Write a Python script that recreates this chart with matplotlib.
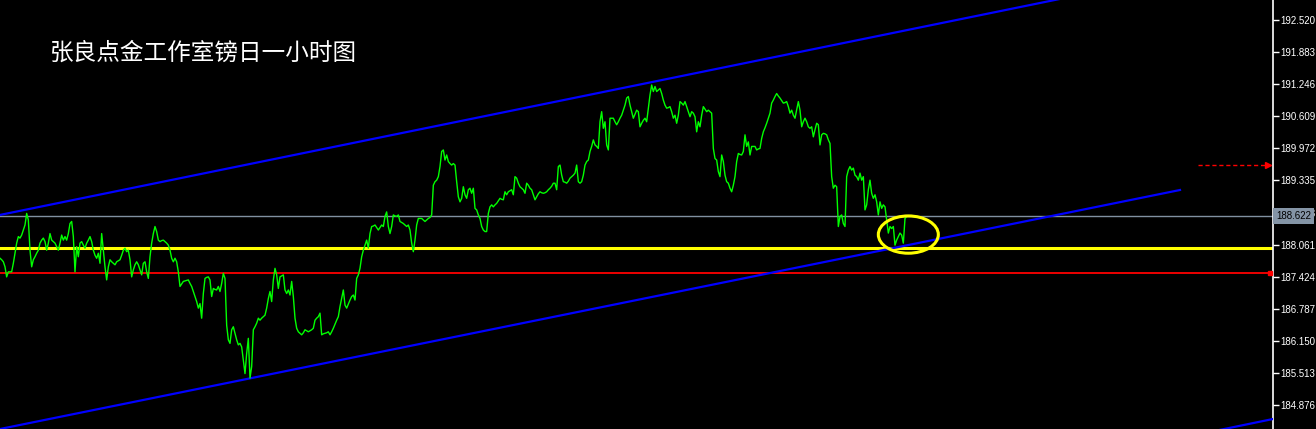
import matplotlib
matplotlib.use("Agg")
import matplotlib.pyplot as plt
from matplotlib.patches import Ellipse

plt.rcParams['font.family'] = ['Noto Sans CJK SC', 'DejaVu Sans']

titulo = "张良点金工作室镑日一小时图"

# fechamentos por barra (1h)
precos = [
    187.79, 187.76, 187.72, 187.62, 187.42, 187.52, 187.52, 187.52, 187.69, 187.89,
    188.09, 188.22, 188.19, 188.25, 188.35, 188.45, 188.68, 188.55, 187.95, 187.62,
    187.76, 187.82, 187.89, 187.95, 188.09, 188.15, 188.19, 188.12, 187.95, 188.09,
    188.28, 188.15, 188.12, 188.09, 188.02, 187.95, 188.09, 188.25, 188.15, 188.22,
    188.15, 188.28, 188.48, 188.52, 188.22, 187.52, 188.02, 187.82, 188.09, 188.12,
    188.05, 187.99, 188.09, 188.15, 188.22, 188.12, 187.95, 187.85, 187.79, 187.89,
    187.69, 188.28, 187.95, 187.62, 187.36, 187.62, 187.76, 187.72, 187.69, 187.66,
    187.72, 187.74, 187.76, 187.85, 187.95, 187.99, 187.92, 187.95, 187.76, 187.42,
    187.56, 187.66, 187.72, 187.66, 187.56, 187.46, 187.69, 187.72, 187.52, 187.39,
    187.82, 188.09, 188.28, 188.42, 188.32, 188.15, 188.12, 188.14, 188.15, 188.12,
    188.09, 188.05, 187.95, 187.79, 187.72, 187.79, 187.72, 187.52, 187.23, 187.28,
    187.33, 187.34, 187.35, 187.36, 187.29, 187.23, 187.13, 187.03, 186.93, 186.80,
    186.89, 186.60, 187.09, 187.39, 187.41, 187.42, 187.36, 187.03, 187.19, 187.17,
    187.16, 187.23, 187.13, 187.29, 187.49, 187.39, 186.46, 186.17, 186.10, 186.37,
    186.43, 186.30, 186.17, 186.07, 186.10, 186.03, 185.77, 185.50, 185.90, 186.20,
    185.41, 185.64, 186.37, 186.43, 186.50, 186.60, 186.56, 186.60, 186.63, 186.66,
    186.80, 186.99, 187.13, 186.93, 187.36, 187.59, 187.46, 187.19, 187.42, 187.44,
    187.46, 187.16, 187.09, 187.16, 187.06, 187.33, 187.03, 186.60, 186.40, 186.33,
    186.30, 186.27, 186.31, 186.37, 186.35, 186.33, 186.35, 186.37, 186.40, 186.56,
    186.60, 186.63, 186.70, 186.27, 186.29, 186.30, 186.31, 186.33, 186.27, 186.33,
    186.40, 186.48, 186.56, 186.63, 186.83, 186.99, 187.16, 186.86, 186.80, 186.88,
    186.96, 187.03, 187.06, 186.96, 187.39, 187.46, 187.59, 187.82, 187.95, 188.05,
    188.15, 187.99, 188.28, 188.42, 188.43, 188.45, 188.40, 188.35, 188.40, 188.45,
    188.42, 188.62, 188.71, 188.42, 188.28, 188.42, 188.65, 188.63, 188.62, 188.65,
    188.52, 188.50, 188.48, 188.45, 188.42, 188.45, 188.35, 188.09, 187.92, 188.15,
    188.45, 188.58, 188.58, 188.58, 188.55, 188.52, 188.55, 188.58, 188.60, 188.65,
    189.24, 189.31, 189.34, 189.41, 189.61, 189.91, 189.94, 189.74, 189.84, 189.71,
    189.67, 189.64, 189.67, 189.64, 189.31, 189.01, 188.91, 188.98, 189.21, 189.05,
    188.98, 189.15, 189.18, 189.08, 189.18, 188.78, 188.75, 188.65, 188.58, 188.42,
    188.35, 188.32, 188.32, 188.68, 188.81, 188.85, 188.81, 188.85, 188.88, 188.93,
    188.98, 188.96, 188.95, 189.11, 189.05, 189.11, 189.13, 189.15, 189.05, 189.41,
    189.38, 189.28, 189.21, 189.18, 189.15, 189.08, 189.28, 189.24, 189.18, 189.15,
    189.05, 188.95, 189.01, 189.07, 189.11, 189.09, 189.08, 189.09, 189.11, 189.15,
    189.18, 189.22, 189.28, 189.28, 189.15, 189.61, 189.64, 189.44, 189.31, 189.30,
    189.28, 189.32, 189.38, 189.41, 189.44, 189.48, 189.64, 189.31, 189.28, 189.31,
    189.44, 189.64, 189.71, 189.74, 189.91, 190.01, 190.14, 190.04, 190.01, 189.97,
    190.50, 190.70, 190.37, 190.50, 190.04, 189.94, 190.57, 190.57, 190.57, 190.50,
    190.44, 190.50, 190.57, 190.63, 190.73, 190.83, 190.97, 191.00, 190.83, 190.70,
    190.57, 190.65, 190.73, 190.70, 190.40, 190.47, 190.53, 190.57, 190.50, 190.77,
    191.03, 191.23, 191.10, 191.20, 191.10, 191.13, 191.16, 191.06, 190.93, 190.83,
    190.77, 190.78, 190.80, 190.70, 190.57, 190.63, 190.47, 190.63, 190.90, 190.87,
    190.83, 190.90, 190.80, 190.70, 190.60, 190.70, 190.67, 190.60, 190.30, 190.50,
    190.40, 190.63, 190.80, 190.75, 190.70, 190.73, 190.70, 190.67, 189.97, 189.77,
    189.74, 189.51, 189.41, 189.84, 189.71, 189.44, 189.31, 189.28, 189.18, 189.11,
    189.24, 189.41, 189.71, 189.87, 189.85, 189.84, 189.91, 190.24, 190.01, 190.10,
    189.84, 190.01, 190.01, 190.01, 189.94, 189.96, 189.97, 190.17, 190.30, 190.38,
    190.47, 190.57, 190.67, 190.87, 190.93, 191.00, 191.06, 191.01, 190.97, 190.92,
    190.87, 190.88, 190.90, 190.80, 190.67, 190.73, 190.63, 190.57, 190.73, 190.90,
    190.73, 190.40, 190.50, 190.57, 190.50, 190.40, 190.37, 190.40, 190.20, 190.34,
    190.47, 190.44, 190.04, 190.24, 190.27, 190.26, 190.24, 190.14, 190.07, 189.41,
    189.18, 189.24, 189.21, 188.42, 188.62, 188.65, 188.48, 188.42, 189.41, 189.54,
    189.61, 189.54, 189.58, 189.44, 189.41, 189.34, 189.48, 189.34, 189.41, 188.75,
    188.85, 189.15, 189.34, 189.08, 188.98, 189.05, 188.91, 188.65, 188.91, 188.78,
    188.85, 188.81, 188.55, 188.29, 188.42, 188.38, 188.42, 188.05, 188.15, 188.22,
    188.29, 188.25, 188.09, 188.58, 188.62,
]

# canal de tendência (barra, preço)
canal_sup_x = [0, 700]
canal_sup_y = [188.65, 193.37]
canal_inf_x = [0, 708]
canal_inf_y = [184.40, 189.145]
canal_ext_x = [700, 764]
canal_ext_y = [184.165, 184.60]

nivel_resist = 188.622
nivel_amarelo = 187.99
nivel_vermelho = 187.50
preco_seta = 189.64

marcas_y = [192.520, 191.883, 191.246, 190.609, 189.972, 189.335, 188.698,
            188.061, 187.424, 186.787, 186.150, 185.513, 184.876]

fig = plt.figure(figsize=(13.16, 4.29), dpi=100, facecolor="black")
ax = fig.add_axes([0, 0, 1273 / 1316, 1])
ax.set_facecolor("black")

ax.axhline(nivel_resist, color="#8090a0", lw=1.0, zorder=2)
ax.axhline(nivel_amarelo, color="#ffff00", lw=2.2, zorder=2)
ax.axhline(nivel_vermelho, color="#ff0000", lw=1.3, zorder=2)

ax.plot(canal_sup_x, canal_sup_y, color="#0000ff", lw=1.6, zorder=3)
ax.plot(canal_inf_x, canal_inf_y, color="#0000ff", lw=1.6, zorder=3)
ax.plot(canal_ext_x, canal_ext_y, color="#0000ff", lw=1.6, zorder=3)

ax.plot(range(len(precos)), precos, color="#00ff00", lw=1.0, zorder=4)

# destaque do toque na linha do canal
ax.add_patch(Ellipse((545, 188.26), 36, 0.74, fill=False, edgecolor="#ffff00",
                     lw=2.2, zorder=5))

# seta tracejada de preço à direita
ax.plot([719, 760], [preco_seta, preco_seta], color="#ff0000", lw=1.0,
        ls=(0, (3, 2)), zorder=4)
ax.plot([761], [preco_seta], marker=">", color="#ff0000", ms=5, zorder=4)
ax.plot([762], [nivel_vermelho], marker="s", color="#ff0000", ms=3, zorder=4)

ax.set_xlim(0, 763.8)
ax.set_ylim(184.40, 192.917)

for lado in ["top", "left", "bottom"]:
    ax.spines[lado].set_visible(False)
ax.spines["right"].set_color("white")
ax.spines["right"].set_linewidth(1.2)
ax.set_xticks([])
ax.yaxis.tick_right()
ax.set_yticks(marcas_y)
ax.set_yticklabels([f"{v:.3f}" for v in marcas_y])
ax.tick_params(axis="y", colors="white", length=4, width=1, pad=1.5,
               labelsize=7)
for lbl in ax.get_yticklabels():
    lbl.set_fontfamily("Liberation Sans")

# rótulo do nível atual (cobre a marca 188.698, como no original)
ax.text(1.0025, nivel_resist, f"{nivel_resist:.3f}", transform=ax.get_yaxis_transform(),
        ha="left", va="center", fontsize=7, family="Liberation Sans", color="black",
        bbox=dict(boxstyle="square,pad=0.3", facecolor="#8494a6", edgecolor="none"),
        clip_on=False, zorder=10)

fig.text(50 / 1316, 1 - 53 / 429, titulo, color="white", fontsize=17,
         va="center", ha="left")

plt.savefig("out.png", dpi=100, facecolor="black")
plt.close()
